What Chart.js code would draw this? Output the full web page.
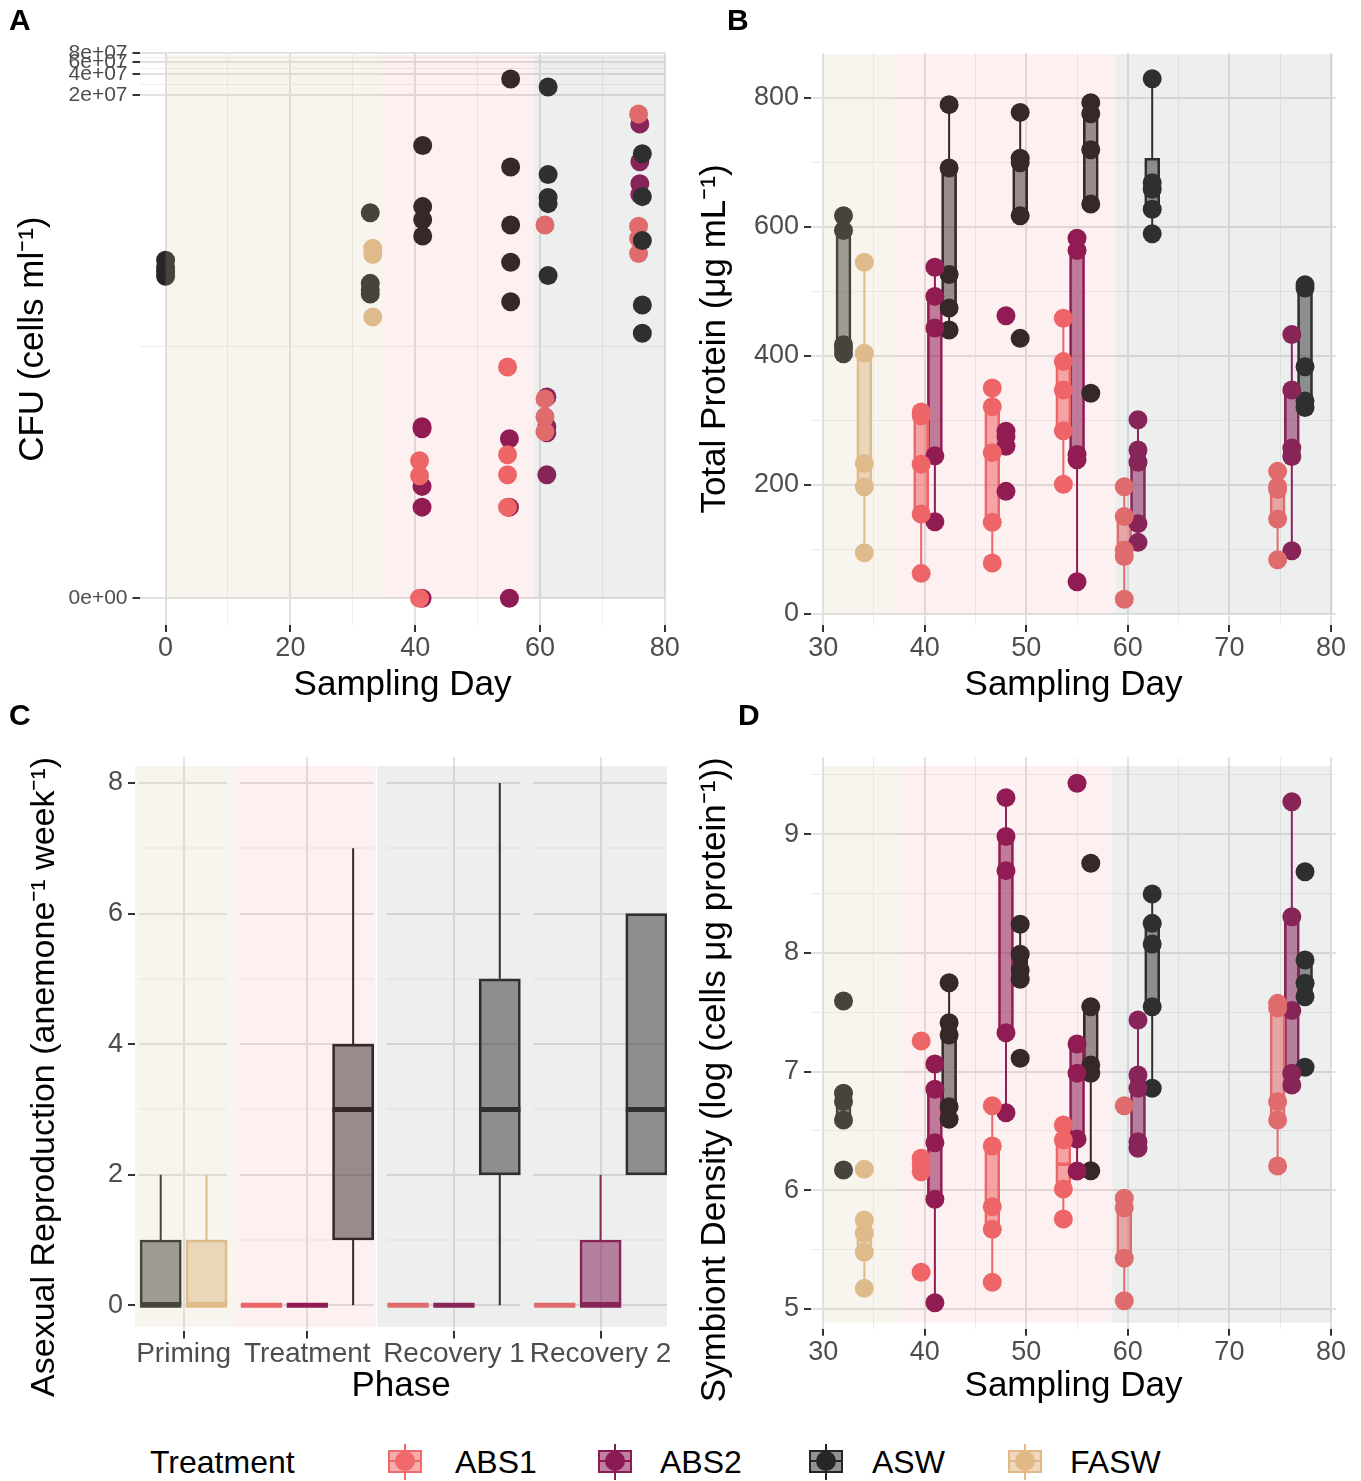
<!DOCTYPE html>
<html>
<head>
<meta charset="utf-8">
<title>Anemone figure</title>
<script src="https://cdn.jsdelivr.net/npm/chart.js@4.4.1/dist/chart.umd.min.js"></script>
<style>
  html, body { margin: 0; padding: 0; background: #fff; }
  body { position: relative; width: 1361px; height: 1481px; overflow: hidden;
         font-family: 'Liberation Sans', Arial, Helvetica, sans-serif; }
  canvas { position: absolute; }
  .tag { position: absolute; font-size: 30px; font-weight: bold; line-height: 1; color: #000; }
  .legend-text { position: absolute; top: 1446px; font-size: 32px; line-height: 1; color: #000; white-space: nowrap; }
  .key { position: absolute; top: 1444px; width: 34px; height: 36px; }
  .key div { position: absolute; }
  .key .stem { left: 16px; top: 0; width: 2px; height: 36px; }
  .key .box { left: 0; top: 6px; width: 30px; height: 19px; border: 2px solid; }
  .key .mid { left: 0; top: 16px; width: 34px; height: 2px; }
  .key .dot { left: 7px; top: 7px; width: 20px; height: 20px; border-radius: 50%; }
</style>
</head>
<body>
<canvas id="chartA" width="680" height="712" style="left:0;top:0"></canvas>
<canvas id="chartB" width="681" height="712" style="left:680px;top:0"></canvas>
<canvas id="chartC" width="680" height="700" style="left:0;top:712px"></canvas>
<canvas id="chartD" width="681" height="700" style="left:680px;top:712px"></canvas>
<div class="tag" style="left:9px;top:5px">A</div>
<div class="tag" style="left:727px;top:5px">B</div>
<div class="tag" style="left:9px;top:700px">C</div>
<div class="tag" style="left:738px;top:700px">D</div>
<div id="legend"></div>

<script>
// ---------- data ----------
const treatments = ['ABS1', 'ABS2', 'ASW', 'FASW'];

// Panel A: CFU (cells per ml), sampling day of each anemone
const cfuDayABS1 = [40.7, 40.7, 40.7, 54.8, 54.8, 54.8, 54.8, 60.8, 60.8, 60.8, 60.8, 75.8, 75.8, 75.8, 75.8];
const cfuABS1 = [98, 59, 0, 2260, 120, 61, 20, 2.6e5, 780, 430, 260, 1.06e7, 2.5e5, 1.66e5, 1.0e5];
const cfuDayABS2 = [41.1, 41.1, 41.1, 41.1, 41.1, 55.1, 55.1, 55.1, 61.1, 61.1, 61.1, 61.1, 76.0, 76.0, 76.0, 76.0];
const cfuABS2 = [307, 287, 41, 20, 0, 205, 20, 0, 830, 307, 250, 61, 7.6e6, 2.15e6, 1.03e6, 7.2e5];
const cfuDayASW = [0, 0, 0, 0, 32.8, 32.8, 32.8, 32.8, 41.2, 41.2, 41.2, 41.2, 55.3, 55.3, 55.3, 55.3, 55.3,
                   61.3, 61.3, 61.3, 61.3, 61.3, 76.4, 76.4, 76.4, 76.4, 76.4];
const cfuASW = [8.0e4, 6.3e4, 5.5e4, 4.7e4, 3.9e5, 3.7e4, 3.0e4, 2.6e4, 3.7e6, 4.8e5, 3.1e5, 1.8e5,
                3.4e7, 1.8e6, 2.6e5, 7.5e4, 2.0e4, 2.6e7, 1.4e6, 6.5e5, 5.3e5, 4.8e4,
                2.8e6, 6.7e5, 1.55e5, 1.8e4, 7.0e3];
const cfuDayFASW = [33.2, 33.2, 33.2];
const cfuFASW = [1.2e5, 9.7e4, 1.2e4];
const cfuTicks = [0, 2e7, 4e7, 6e7, 8e7];
const cfuTickLabels = ['0e+00', '2e+07', '4e+07', '6e+07', '8e+07'];
const cfuDayTicks = [0, 20, 40, 60, 80];

// Panels B and D: sampling day of each box (dodged by treatment)
const sampleDayABS1 = [39.65, 46.65, 53.65, 59.65, 74.75];
const sampleDayABS2 = [41.0, 48.0, 55.0, 61.0, 76.15];
const sampleDayASW = [32.0, 42.4, 49.4, 56.35, 62.4, 77.45];
const sampleDayFASW = [34.05];
const dayTicks = [30, 40, 50, 60, 70, 80];

// Panel B: total protein (ug/mL); boxes are [min, q1, median, q3, max]
const proteinBoxABS1 = [[63, 155, 232, 307, 313], [79, 142, 250, 321, 350], [201, 284, 347, 391, 458],
                        [23, 89, 99, 151, 197], [84, 147, 193, 205, 221]];
const proteinPtsABS1 = [[313, 307, 232, 155, 63], [350, 321, 250, 142, 79], [458, 391, 347, 284, 201],
                        [197, 151, 99, 89, 23], [221, 197, 193, 147, 84]];
const proteinBoxABS2 = [[143, 245, 443, 492, 537], [260, 260, 275, 283, 283], [50, 239, 247, 563, 582],
                        [111, 140, 235, 254, 301], [98, 244, 257, 347, 433]];
const proteinPtsABS2 = [[537, 492, 443, 245, 143], [462, 283, 275, 260, 190], [582, 563, 247, 239, 50],
                        [301, 254, 235, 140, 111], [433, 347, 257, 244, 98]];
const proteinBoxASW = [[403, 411, 417, 593, 617], [440, 474, 526, 691, 789], [617, 617, 699, 706, 777],
                       [635, 635, 719, 775, 792], [589, 621, 650, 706, 829], [319, 330, 383, 505, 510]];
const proteinPtsASW = [[617, 594, 417, 411, 403], [789, 691, 526, 474, 440], [777, 706, 699, 617, 427],
                       [792, 775, 719, 635, 342], [829, 668, 658, 627, 589], [510, 505, 383, 330, 320]];
const proteinBoxFASW = [[95, 197, 233, 404, 545]];
const proteinPtsFASW = [[545, 404, 233, 197, 95]];
const proteinTicks = [0, 200, 400, 600, 800];

// Panel D: symbiont density, log(cells per ug protein)
const densityBoxABS1 = [[6.157, 6.157, 6.213, 6.270, 6.270], [5.225, 5.671, 5.862, 6.373, 6.713],
                        [5.758, 6.011, 6.22, 6.424, 6.550], [5.070, 5.427, 5.853, 5.933, 5.933],
                        [6.205, 6.592, 6.747, 7.536, 7.575]];
const densityPtsABS1 = [[7.258, 6.270, 6.213, 6.157, 5.309], [6.713, 6.373, 5.862, 5.671, 5.225],
                        [6.550, 6.424, 6.011, 5.758], [6.713, 5.933, 5.853, 5.427, 5.070],
                        [7.575, 7.536, 6.747, 6.592, 6.205]];
const densityBoxABS2 = [[5.053, 5.924, 6.401, 6.851, 7.064], [6.654, 7.328, 8.693, 8.980, 9.308],
                        [6.163, 6.432, 6.987, 7.233, 7.233], [6.354, 6.409, 6.859, 6.971, 7.435],
                        [6.887, 6.986, 7.514, 8.305, 9.274]];
const densityPtsABS2 = [[7.064, 6.851, 6.401, 5.924, 5.053], [9.308, 8.980, 8.693, 7.328, 6.654],
                        [9.429, 7.233, 6.987, 6.432, 6.163], [7.435, 6.971, 6.859, 6.409, 6.354],
                        [9.274, 8.305, 7.514, 6.986, 6.887]];
const densityBoxASW = [[6.592, 6.592, 6.747, 6.817, 6.817], [6.598, 6.704, 7.308, 7.412, 7.749],
                       [7.778, 7.778, 7.856, 7.988, 8.241], [6.165, 6.986, 7.056, 7.547, 7.547],
                       [6.859, 7.547, 8.075, 8.249, 8.496], [7.631, 7.631, 7.744, 7.940, 7.940]];
const densityPtsASW = [[7.595, 6.817, 6.747, 6.592, 6.171], [7.749, 7.412, 7.308, 6.704, 6.598],
                       [8.241, 7.988, 7.856, 7.778, 7.112], [8.755, 7.547, 7.056, 6.986, 6.165],
                       [8.496, 8.249, 8.075, 7.547, 6.859], [8.684, 7.940, 7.744, 7.631, 7.036]];
const densityBoxFASW = [[5.174, 5.478, 5.638, 5.750, 5.750]];
const densityPtsFASW = [[6.177, 5.750, 5.638, 5.478, 5.174]];
const densityTicks = [5, 6, 7, 8, 9];

// Panel C: asexual reproduction per phase, boxes are [min, q1, median, q3, max]
const phases = ['Priming', 'Treatment', 'Recovery 1', 'Recovery 2'];
const phaseTreatments = [['ASW', 'FASW'], ['ABS1', 'ABS2', 'ASW'], ['ABS1', 'ABS2', 'ASW'], ['ABS1', 'ABS2', 'ASW']];
const reproBox = [
  [[0, 0, 0, 1, 2], [0, 0, 0, 1, 2]],
  [[0, 0, 0, 0, 0], [0, 0, 0, 0, 0], [0, 1, 3, 4, 7]],
  [[0, 0, 0, 0, 0], [0, 0, 0, 0, 0], [0, 2, 3, 5, 8]],
  [[0, 0, 0, 0, 0], [0, 0, 0, 1, 2], [2, 2, 3, 6, 6]]
];
const reproTicks = [0, 2, 4, 6, 8];

// phase shading (day ranges) behind each panel
const phaseBandsA = [[0, 34.7], [34.7, 59.0], [59.0, 80.1]];
const phaseBandsB = [[30, 36.95], [36.95, 58.8], [58.8, 80.2]];
const phaseBandsD = [[30, 37.7], [37.7, 58.5], [58.5, 80.0]];

// ---------- styles ----------
const FONT = "'Liberation Sans', Arial, Helvetica, sans-serif";
const colors = {ABS1: '#F0696B', ABS2: '#8B1A55', ASW: '#262626', FASW: '#E2B886'};
const fills = {ABS1: 'rgba(240,105,107,0.55)', ABS2: 'rgba(139,26,85,0.55)',
               ASW: 'rgba(38,38,38,0.5)', FASW: 'rgba(226,184,134,0.55)'};
const bandColors = ['rgba(215,200,165,0.19)', 'rgba(220,60,60,0.08)', 'rgba(110,125,120,0.12)'];
const GRID_MAJOR = '#E2E2E2';
const GRID_MINOR = '#EDEDED';
const MARK = '#333333';
const TICK_TEXT = '#4D4D4D';

// ---------- helpers ----------
const logCfu = v => Math.log10(v + 1);

function tickSpec(majors, labels, minors) {
  const list = majors.map((v, i) => ({v: v, label: labels[i], minor: false}))
    .concat((minors || []).map(v => ({v: v, label: '', minor: true})));
  list.sort((a, b) => a.v - b.v);
  return list;
}

function midpoints(vals) {
  const out = [];
  for (let i = 0; i < vals.length - 1; i++) out.push((vals[i] + vals[i + 1]) / 2);
  return out;
}

function linearAxis(spec) {
  const t = spec.ticks;
  const isMinor = c => !!(t[c.index] && t[c.index].minor);
  return {
    type: 'linear', bounds: 'data', offset: false,
    min: spec.min, max: spec.max,
    afterBuildTicks: s => { s.ticks = t.map(o => ({value: o.v})); },
    afterFit: s => {
      if (spec.horizontal) s.height = spec.size; else s.width = spec.size;
      s.paddingLeft = s.paddingRight = s.paddingTop = s.paddingBottom = 0;
    },
    grid: {
      offset: false,
      color: c => spec.hideGrid ? 'rgba(0,0,0,0)' : (isMinor(c) ? GRID_MINOR : GRID_MAJOR),
      lineWidth: c => isMinor(c) ? 1 : 2,
      tickColor: c => isMinor(c) ? 'rgba(0,0,0,0)' : MARK,
      tickWidth: 2, tickLength: 7, drawTicks: true
    },
    border: {display: false},
    ticks: {
      autoSkip: false, maxRotation: 0, minRotation: 0, padding: spec.tickPad,
      color: TICK_TEXT, font: {family: FONT, size: spec.fontSize || 27, lineHeight: 1},
      callback: (v, i) => (t[i] ? t[i].label : '')
    },
    title: {
      display: true, text: spec.title, color: '#000', align: spec.titleAlign || 'center',
      font: {family: FONT, size: spec.titleSize || 35, lineHeight: 1},
      padding: spec.horizontal ? {top: 0, bottom: spec.titlePad} : {top: spec.titlePad, bottom: 0}
    }
  };
}

// shaded phase rectangles, painted over the marks like the original
const bandsPlugin = {
  id: 'bands',
  beforeDatasetsDraw(chart, args, opts) {
    if (!opts.facets) return;
    const {ctx, scales: {x, y}} = chart;
    ctx.save();
    opts.facets.forEach(f => {
      const x0 = x.getPixelForValue(f[0]), x1 = x.getPixelForValue(f[1]);
      opts.rows.forEach(r => {
        const py = Math.round(y.getPixelForValue(r.v));
        ctx.strokeStyle = r.minor ? GRID_MINOR : GRID_MAJOR;
        ctx.lineWidth = r.minor ? 1 : 2;
        ctx.beginPath(); ctx.moveTo(x0, py); ctx.lineTo(x1, py); ctx.stroke();
      });
    });
    ctx.restore();
  },
  afterDatasetsDraw(chart, args, opts) {
    const {ctx, chartArea: a, scales: {x, y}} = chart;
    ctx.save();
    ctx.beginPath(); ctx.rect(a.left, a.top, a.width, a.height); ctx.clip();
    opts.bands.forEach((b, i) => {
      const x0 = x.getPixelForValue(b[0]), x1 = x.getPixelForValue(b[1]);
      const y0 = y.getPixelForValue(opts.yRange[0]), y1 = y.getPixelForValue(opts.yRange[1]);
      ctx.fillStyle = bandColors[i];
      ctx.fillRect(x0, y1, x1 - x0, y0 - y1);
    });
    ctx.restore();
  }
};

function pointSet(xs, ys, color) {
  return {
    type: 'scatter', data: xs.map((x, i) => ({x: x, y: ys[i]})),
    backgroundColor: color, borderWidth: 0, pointRadius: 9.5, pointHoverRadius: 9.5, order: 0
  };
}

function boxSets(xs, boxes, color, fill, halfW, barPx, medW) {
  const whisk = [], med = [];
  xs.forEach((x, i) => {
    const b = boxes[i];
    whisk.push({x: x, y: b[0]}, {x: x, y: b[1]}, {x: x, y: null}, {x: x, y: b[3]}, {x: x, y: b[4]}, {x: x, y: null});
    med.push({x: x - halfW, y: b[2]}, {x: x + halfW, y: b[2]}, {x: x, y: null});
  });
  return [
    {type: 'bar', data: xs.map((x, i) => ({x: x, y: [boxes[i][1], boxes[i][3]]})),
     backgroundColor: fill, borderColor: color, borderWidth: 2, borderSkipped: false,
     barThickness: barPx, grouped: false, order: 2},
    {type: 'line', data: whisk, borderColor: color, borderWidth: 2, pointRadius: 0,
     spanGaps: false, tension: 0, order: 3},
    {type: 'line', data: med, borderColor: color, borderWidth: medW, pointRadius: 0,
     spanGaps: false, tension: 0, borderCapStyle: 'butt', order: 1}
  ];
}

function makeChart(id, cfg) {
  const cv = document.getElementById(cfg.canvas);
  const W = cv.width, H = cv.height;
  return new Chart(cv.getContext('2d'), {
    type: 'scatter',
    data: {datasets: cfg.datasets},
    options: {
      responsive: false, animation: false, events: [],
      layout: {padding: {left: 0, top: cfg.area.top, right: W - cfg.area.right, bottom: 0}},
      plugins: {
        legend: {display: false}, tooltip: {enabled: false},
        bands: {bands: cfg.bands, yRange: cfg.bandY, facets: cfg.facets, rows: cfg.rows}
      },
      scales: {
        x: linearAxis(Object.assign({horizontal: true, size: H - cfg.area.bottom}, cfg.x)),
        y: linearAxis(Object.assign({horizontal: false, size: cfg.area.left}, cfg.y))
      }
    },
    plugins: [bandsPlugin]
  });
}

// ---------- panel A ----------
(function () {
  const area = {left: 139.5, right: 665.6, top: 53.3, bottom: 625};
  const ds = [
    pointSet(cfuDayASW, cfuASW.map(logCfu), colors.ASW),
    pointSet(cfuDayFASW, cfuFASW.map(logCfu), colors.FASW),
    pointSet(cfuDayABS1, cfuABS1.map(logCfu), colors.ABS1),
    pointSet(cfuDayABS2, cfuABS2.map(logCfu), colors.ABS2)
  ];
  const yMaj = cfuTicks.map(logCfu);
  makeChart('A', {
    canvas: 'chartA', area: area, datasets: ds,
    bands: phaseBandsA, bandY: [0, logCfu(7.6e7)],
    x: {min: -4.18, max: 80.13, ticks: tickSpec(cfuDayTicks, cfuDayTicks.map(String), midpoints(cfuDayTicks)),
        tickPad: 3, title: 'Sampling Day', titlePad: 9.5},
    y: {min: -0.387, max: 7.905, ticks: tickSpec(yMaj, cfuTickLabels, midpoints(yMaj)),
        tickPad: 5, fontSize: 21, title: 'CFU (cells ml\u207B\u00B9)', titlePad: 15.5}
  });
})();

// ---------- panels B and D ----------
function dayPanel(canvasId, area, boxes, pts, yAxis, bands, bandY) {
  const xMin = 28.8, xMax = 80.5;
  const pxPerDay = (area.right - area.left) / (xMax - xMin);
  const boxDays = 1.48;
  const days = {ABS1: sampleDayABS1, ABS2: sampleDayABS2, ASW: sampleDayASW, FASW: sampleDayFASW};
  let ds = [];
  treatments.forEach(tr => {
    ds = ds.concat(boxSets(days[tr], boxes[tr], colors[tr], fills[tr], boxDays / 2, boxDays * pxPerDay, 3.5));
  });
  treatments.forEach(tr => {
    const xs = [], ys = [];
    pts[tr].forEach((grp, i) => grp.forEach(v => { xs.push(days[tr][i]); ys.push(v); }));
    ds.push(pointSet(xs, ys, colors[tr]));
  });
  makeChart(canvasId, {
    canvas: canvasId, area: area, datasets: ds, bands: bands, bandY: bandY,
    x: {min: xMin, max: xMax, ticks: tickSpec(dayTicks, dayTicks.map(String), midpoints(dayTicks)),
        tickPad: 3.5, title: 'Sampling Day', titlePad: area.xTitlePad},
    y: yAxis
  });
}

dayPanel('chartB', {left: 131, right: 656, top: 53, bottom: 625, xTitlePad: 9.5},
  {ABS1: proteinBoxABS1, ABS2: proteinBoxABS2, ASW: proteinBoxASW, FASW: proteinBoxFASW},
  {ABS1: proteinPtsABS1, ABS2: proteinPtsABS2, ASW: proteinPtsASW, FASW: proteinPtsFASW},
  {min: -17, max: 869, ticks: tickSpec(proteinTicks, proteinTicks.map(String), midpoints(proteinTicks)),
   tickPad: 5, title: 'Total Protein (\u03BCg mL\u207B\u00B9)', titlePad: 17.5},
  phaseBandsB, [0, 867]);

dayPanel('chartD', {left: 131, right: 656, top: 45.3, bottom: 616.7, xTitlePad: 8.5},
  {ABS1: densityBoxABS1, ABS2: densityBoxABS2, ASW: densityBoxASW, FASW: densityBoxFASW},
  {ABS1: densityPtsABS1, ABS2: densityPtsABS2, ASW: densityPtsASW, FASW: densityPtsFASW},
  {min: 4.834, max: 9.648,
   ticks: tickSpec(densityTicks, densityTicks.map(String), midpoints(densityTicks.concat([10]))),
   tickPad: 5, title: 'Symbiont Density (log (cells \u03BCg protein\u207B\u00B9))', titlePad: 17.5,
   titleAlign: 'end', titleSize: 35},
  phaseBandsD, [4.885, 9.575]);

// ---------- panel C ----------
(function () {
  const area = {left: 135, right: 667, top: 44.9, bottom: 619.4};
  const boxSlots = 0.9;          // box width in slot units
  const facetGap = 0.2;          // extra space between phases
  const xMin = -0.561, xMax = 11.05;
  const pxPerSlot = (area.right - area.left) / (xMax - xMin);
  let pos = 0, ds = [];
  const centers = [], facets = [];
  phases.forEach((ph, k) => {
    const trs = phaseTreatments[k];
    const xs = trs.map((tr, j) => pos + j);
    centers.push((xs[0] + xs[xs.length - 1]) / 2);
    facets.push([xs[0] - 0.47, xs[xs.length - 1] + 0.45]);
    trs.forEach((tr, j) => {
      ds = ds.concat(boxSets([xs[j]], [reproBox[k][j]], colors[tr], fills[tr], boxSlots / 2, boxSlots * pxPerSlot, 5));
    });
    pos += trs.length + facetGap;
  });
  const rows = [];
  for (let v = 0; v <= 8; v++) rows.push({v: v, minor: v % 2 === 1});
  const bandsC = [[xMin, facets[0][1] + 0.13], [facets[0][1] + 0.13, facets[1][1] + 0.045], [facets[1][1] + 0.075, xMax]];
  makeChart('C', {
    canvas: 'chartC', area: area, datasets: ds,
    bands: bandsC, bandY: [-0.33, 8.26], facets: facets, rows: rows,
    x: {min: xMin, max: xMax, ticks: tickSpec(centers, phases, []), tickPad: 2, fontSize: 28,
        title: 'Phase', titlePad: 8.5},
    y: {min: -0.4, max: 8.4, ticks: tickSpec(reproTicks, reproTicks.map(String), []), hideGrid: true,
        tickPad: 5, title: 'Asexual Reproduction (anemone\u207B\u00B9 week\u207B\u00B9)', titlePad: 27.5,
        titleAlign: 'end', titleSize: 34}
  });
})();

// ---------- legend ----------
(function () {
  const lg = document.getElementById('legend');
  const title = document.createElement('div');
  title.className = 'legend-text'; title.style.left = '150px'; title.textContent = 'Treatment';
  lg.appendChild(title);
  const keyLeft = [388, 598, 809, 1008];
  const textLeft = [455, 660, 872, 1070];
  treatments.forEach((tr, i) => {
    const k = document.createElement('div');
    k.className = 'key'; k.style.left = keyLeft[i] + 'px';
    k.innerHTML = '<div class="stem"></div><div class="box"></div><div class="mid"></div><div class="dot"></div>';
    k.querySelector('.stem').style.background = colors[tr];
    const b = k.querySelector('.box');
    b.style.background = fills[tr]; b.style.borderColor = colors[tr];
    k.querySelector('.mid').style.background = colors[tr];
    k.querySelector('.dot').style.background = colors[tr];
    lg.appendChild(k);
    const t = document.createElement('div');
    t.className = 'legend-text'; t.style.left = textLeft[i] + 'px'; t.textContent = tr;
    lg.appendChild(t);
  });
})();
</script>
</body>
</html>
